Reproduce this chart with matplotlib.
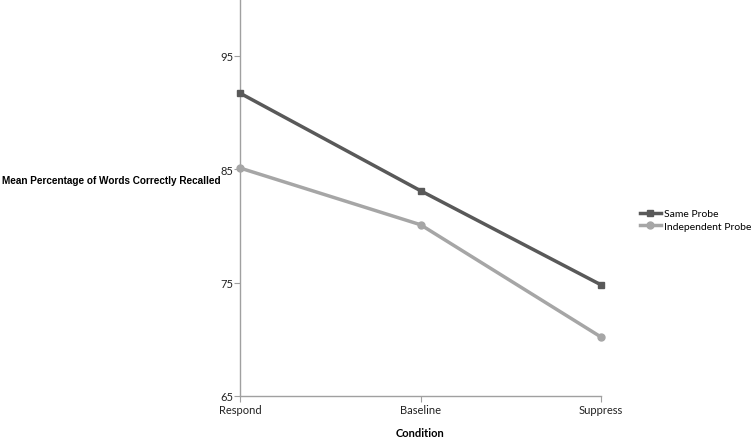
import matplotlib.pyplot as plt

# data
conditions = ['Respond', 'Baseline', 'Suppress']
same_probe = [91.7, 83.1, 74.8]
independent_probe = [85.1, 80.1, 70.2]
y_ticks = [65, 75, 85, 95]

fig = plt.figure(figsize=(7.52, 4.39), dpi=100)
ax = fig.add_axes([240 / 752, 1 - 397 / 439, (601 - 240) / 752, 397 / 439])

x = range(len(conditions))
ax.plot(x, same_probe, color='#595959', lw=2.5, marker='s', ms=5, label='Same Probe', clip_on=False, zorder=3)
ax.plot(x, independent_probe, color='#a6a6a6', lw=2.5, marker='o', ms=5, label='Independent Probe', clip_on=False, zorder=3)

ax.set_xlim(0, 2)
ax.set_ylim(65, 100)
ax.set_yticks(y_ticks)
ax.set_xticks(list(x))
ax.set_xticklabels(conditions, family='Lato', fontsize=8)
ax.set_yticklabels([str(t) for t in y_ticks], family='Lato', fontsize=8)

for s in ['top', 'right']:
    ax.spines[s].set_visible(False)
for s in ['left', 'bottom']:
    ax.spines[s].set_color('#a0a0a0')
    ax.spines[s].set_linewidth(1)
ax.tick_params(axis='both', colors='#a0a0a0', labelcolor='#222222', length=4, pad=1)
ax.tick_params(axis='x', pad=2)

fig.text(420 / 752, 1 - 434 / 439, 'Condition', family='Lato', fontweight='bold',
         fontsize=8, ha='center', va='center')
fig.text(2 / 752, 1 - 181 / 439, 'Mean Percentage of Words Correctly Recalled',
         family='Liberation Sans', fontweight='bold', fontsize=7.2, va='center', ha='left')

fig.legend(loc='center left', bbox_to_anchor=(640 / 752, 1 - 221 / 439), frameon=False,
           prop={'family': 'Lato', 'size': 7.5}, handlelength=2.0, handletextpad=0.3,
           labelspacing=0.3, borderpad=0, borderaxespad=0)

fig.savefig('out.png', dpi=100)
